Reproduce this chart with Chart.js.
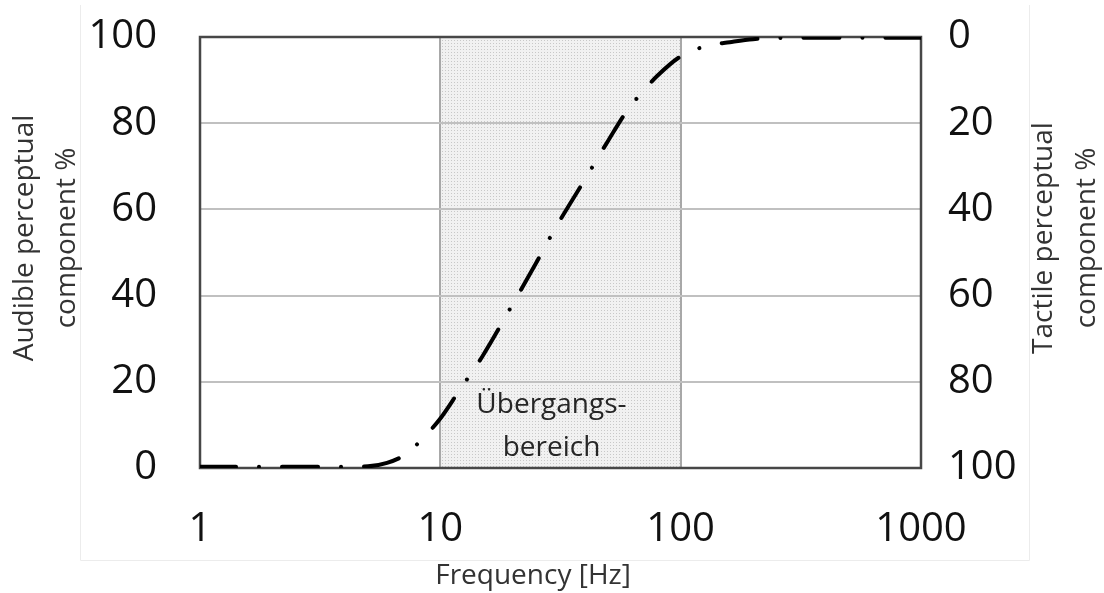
<!DOCTYPE html>
<html>
<head>
<meta charset="utf-8">
<script src="https://cdn.jsdelivr.net/npm/chart.js@4.4.1/dist/chart.umd.min.js"></script>
<style>
  body { margin: 0; background: #fff; }
</style>
</head>
<body>
<canvas id="perceptionChart" width="1104" height="593"></canvas>
<script>
// frequency (Hz) against the audible share of perception (%); tactile share = 100 - audible
const freqHz     = [1, 2, 3, 4, 5, 6, 7, 8, 10, 12, 15, 20, 25, 30, 40, 50, 60, 70, 80, 100, 130, 160, 200, 300, 500, 1000];
const audiblePct = [0.3, 0.3, 0.3, 0.3, 0.4, 1.2, 2.8, 5.5, 11.5, 18, 26, 38, 47.5, 55.5, 67, 76, 83, 87.5, 91, 95.5, 98, 98.8, 99.5, 99.8, 99.8, 99.8];

const freqTicks = [1, 10, 100, 1000];
const pctTicks = [0, 20, 40, 60, 80, 100];
const bandHz = [10, 100];
const bandText = ['Übergangs-', 'bereich'];
const xTitle = 'Frequency [Hz]';
const leftTitle = ['Audible perceptual', 'component %'];
const rightTitle = ['Tactile perceptual', 'component %'];

const FONT = "'Open Sans', sans-serif";

// small dotted tile for the transition band
function dotPattern(ctx) {
    const tile = document.createElement('canvas');
    tile.width = 3;
    tile.height = 3;
    const t = tile.getContext('2d');
    t.fillStyle = '#f1f1f1';
    t.fillRect(0, 0, 3, 3);
    t.fillStyle = '#c8c8c8';
    t.fillRect(1, 1, 1, 1);
    return ctx.createPattern(tile, 'repeat');
}

function rotatedLines(ctx, lines, x, y, step) {
    ctx.save();
    ctx.translate(x, y);
    ctx.rotate(-Math.PI / 2);
    lines.forEach((s, i) => ctx.fillText(s, 0, i * step));
    ctx.restore();
}

const decorations = {
    id: 'decorations',
    beforeDraw(chart) {
        const { ctx, chartArea: a, scales: { x } } = chart;
        const x0 = x.getPixelForValue(bandHz[0]);
        const x1 = x.getPixelForValue(bandHz[1]);
        ctx.save();
        ctx.fillStyle = dotPattern(ctx);
        ctx.fillRect(x0, a.top, x1 - x0, a.bottom - a.top);
        // light outer frame around the figure
        ctx.strokeStyle = '#ececec';
        ctx.lineWidth = 1;
        ctx.beginPath();
        ctx.moveTo(80.5, 5);
        ctx.lineTo(80.5, 560.5);
        ctx.lineTo(1029.5, 560.5);
        ctx.lineTo(1029.5, 5);
        ctx.stroke();
        ctx.restore();
    },
    beforeDatasetsDraw(chart) {
        const { ctx, chartArea: a, scales: { x, y } } = chart;
        ctx.save();
        ctx.strokeStyle = '#474747';
        ctx.lineWidth = 2.5;
        ctx.strokeRect(a.left, a.top, a.right - a.left, a.bottom - a.top);

        ctx.fillStyle = '#262626';
        ctx.font = `28px ${FONT}`;
        ctx.textAlign = 'center';
        ctx.textBaseline = 'middle';
        const cx = x.getPixelForValue(29);
        const cy = y.getPixelForValue(14.5);
        bandText.forEach((s, i) => ctx.fillText(s, cx, cy + i * 43));

        // axis titles
        ctx.fillStyle = '#333';
        ctx.fillText(xTitle, 533, 576);
        rotatedLines(ctx, leftTitle, 25, 238, 42);
        rotatedLines(ctx, rightTitle, 1044, 238, 43);
        ctx.restore();
    }
};

const tickFont = { family: FONT, size: 40 };

// fixed side widths, no extra label padding above/below the value axes
const sideFit = w => s => {
    s.width = w;
    s.paddingTop = 0;
    s.paddingBottom = 0;
};

new Chart('perceptionChart', {
    type: 'line',
    data: {
        datasets: [{
            data: freqHz.map((f, i) => ({ x: f, y: audiblePct[i] })),
            borderColor: '#000',
            borderWidth: 4,
            borderDash: [36, 23, 0.01, 23],
            borderCapStyle: 'round',
            cubicInterpolationMode: 'monotone',
            pointRadius: 0,
            yAxisID: 'y'
        }]
    },
    options: {
        responsive: false,
        animation: false,
        devicePixelRatio: 1,
        layout: { padding: { top: 37, left: 0, right: 0, bottom: 0 } },
        plugins: { legend: { display: false }, tooltip: { enabled: false } },
        scales: {
            x: {
                type: 'logarithmic',
                min: 1,
                max: 1000,
                afterBuildTicks: s => { s.ticks = freqTicks.map(v => ({ value: v })); },
                afterFit: s => { s.height = 125; },
                ticks: { callback: v => String(v), color: '#111', font: tickFont, padding: 38, maxRotation: 0, autoSkip: false },
                grid: { color: c => (c.tick && bandHz.includes(c.tick.value)) ? '#a8a8a8' : 'transparent', lineWidth: 2, drawTicks: false },
                border: { display: false }
            },
            y: {
                position: 'left',
                min: 0,
                max: 100,
                afterBuildTicks: s => { s.ticks = pctTicks.map(v => ({ value: v })); },
                afterFit: sideFit(200),
                ticks: { color: '#111', font: tickFont, padding: 43 },
                grid: { color: '#c0c0c0', lineWidth: 2, drawTicks: false },
                border: { display: false }
            },
            y2: {
                position: 'right',
                min: 0,
                max: 100,
                reverse: true,
                afterBuildTicks: s => { s.ticks = pctTicks.map(v => ({ value: v })); },
                afterFit: sideFit(183),
                ticks: { color: '#111', font: tickFont, padding: 27 },
                grid: { display: false, drawTicks: false },
                border: { display: false }
            }
        }
    },
    plugins: [decorations]
});
</script>
</body>
</html>
